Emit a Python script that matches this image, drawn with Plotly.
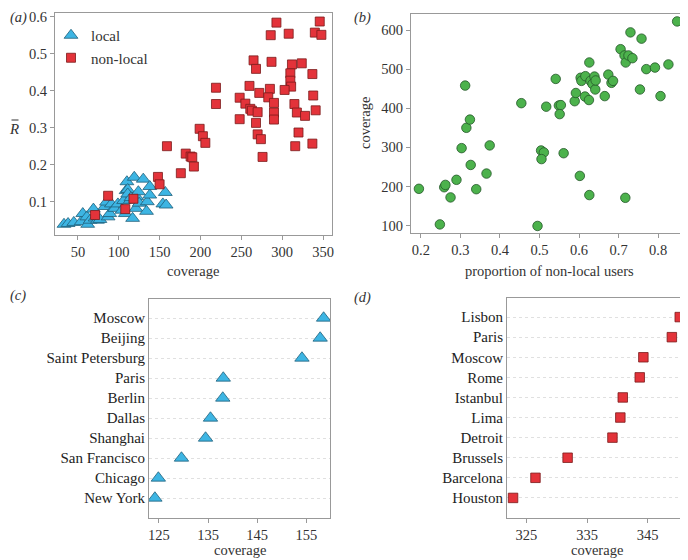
import plotly.graph_objects as go

# panel (a): coverage vs mean R for local / non-local users
local_cov = [33, 38, 45, 54, 56, 61, 62, 65, 69, 71, 74, 77, 83, 85, 87, 89, 91, 95, 99,
             104, 106, 108, 109, 110, 111, 111, 114, 115, 117, 119, 121, 122, 124, 125,
             130, 134, 135, 138, 138, 154, 157, 158]
local_r = [0.039, 0.041, 0.044, 0.046, 0.068, 0.059, 0.039, 0.050, 0.080, 0.056, 0.050,
           0.052, 0.087, 0.099, 0.059, 0.068, 0.094, 0.082, 0.094, 0.077, 0.103, 0.068,
           0.130, 0.154, 0.133, 0.121, 0.104, 0.111, 0.055, 0.166, 0.082, 0.113, 0.127,
           0.096, 0.161, 0.074, 0.100, 0.118, 0.141, 0.094, 0.125, 0.091]
nonlocal_cov = [293, 346, 286, 308, 340, 348, 265, 287, 268, 312, 324, 310, 337, 310, 311,
                303, 260, 272, 285, 219, 219, 248, 283, 255, 290, 261, 263, 270, 315, 318,
                328, 341, 338, 248, 290, 290, 268, 270, 274, 320, 316, 337, 276, 199, 203,
                206, 159, 182, 188, 190, 192, 176, 148, 150, 87, 118, 108, 71]
nonlocal_r = [0.584, 0.587, 0.550, 0.554, 0.557, 0.551, 0.482, 0.478, 0.459, 0.471, 0.474,
              0.447, 0.445, 0.427, 0.411, 0.402, 0.413, 0.394, 0.405, 0.408, 0.364, 0.381,
              0.382, 0.365, 0.367, 0.351, 0.346, 0.342, 0.364, 0.341, 0.332, 0.347, 0.387,
              0.323, 0.341, 0.322, 0.313, 0.282, 0.269, 0.287, 0.250, 0.257, 0.221, 0.297,
              0.277, 0.259, 0.250, 0.230, 0.222, 0.220, 0.195, 0.177, 0.167, 0.147, 0.116,
              0.108, 0.080, 0.064]

# panel (b): proportion of non-local users vs coverage
prop_nonlocal = [0.195, 0.248, 0.259, 0.262, 0.275, 0.29, 0.303, 0.312, 0.315, 0.324, 0.326,
                 0.34, 0.366, 0.374, 0.454, 0.495, 0.504, 0.511, 0.505, 0.517, 0.541, 0.549,
                 0.554, 0.551, 0.561, 0.589, 0.592, 0.602, 0.604, 0.606, 0.616, 0.615, 0.625,
                 0.626, 0.626, 0.629, 0.634, 0.639, 0.641, 0.642, 0.665, 0.674, 0.682, 0.686,
                 0.705, 0.717, 0.715, 0.718, 0.725, 0.735, 0.73, 0.754, 0.758, 0.77, 0.792,
                 0.806, 0.826, 0.848]
coverage_b = [194, 103, 198, 204, 172, 217, 298, 458, 350, 371, 255, 193, 233, 305, 413, 99,
              292, 287, 270, 404, 475, 407, 408, 385, 285, 418, 439, 227, 478, 470, 482, 430,
              421, 517, 178, 470, 462, 481, 448, 471, 431, 486, 465, 470, 551, 171, 535, 517,
              535, 528, 594, 448, 578, 500, 504, 431, 512, 622]

# panel (c): top local cities
cities_c = ["New York", "Chicago", "San Francisco", "Shanghai", "Dallas", "Berlin",
            "Paris", "Saint Petersburg", "Beijing", "Moscow"]
coverage_c = [124.2, 124.9, 129.6, 134.5, 135.5, 138.0, 138.1, 154.1, 157.8, 158.5]

# panel (d): top non-local cities
cities_d = ["Houston", "Barcelona", "Brussels", "Detroit", "Lima", "Istanbul", "Rome",
            "Moscow", "Paris", "Lisbon"]
coverage_d = [322.8, 326.5, 331.8, 339.2, 340.5, 340.9, 343.7, 344.3, 349.0, 350.3]

BLUE = "#3db5e3"
RED = "#e3333a"
GREEN = "#4cb24c"
FONT = "Liberation Serif"

fig = go.Figure()

fig.add_trace(go.Scatter(x=local_cov, y=local_r, mode="markers", name="local",
                         marker=dict(symbol="triangle-up", size=12, color=BLUE,
                                     line=dict(color="#1f5f7a", width=0.8)),
                         xaxis="x", yaxis="y"))
fig.add_trace(go.Scatter(x=nonlocal_cov, y=nonlocal_r, mode="markers", name="non-local",
                         marker=dict(symbol="square", size=9, color=RED,
                                     line=dict(color="#7a1a1a", width=0.8)),
                         xaxis="x", yaxis="y"))
fig.add_trace(go.Scatter(x=prop_nonlocal, y=coverage_b, mode="markers", showlegend=False,
                         marker=dict(symbol="circle", size=9.5, color=GREEN,
                                     line=dict(color="#25572a", width=0.8)),
                         xaxis="x2", yaxis="y2"))
fig.add_trace(go.Scatter(x=coverage_c, y=cities_c, mode="markers", showlegend=False,
                         marker=dict(symbol="triangle-up", size=12.5, color=BLUE,
                                     line=dict(color="#1f5f7a", width=0.8)),
                         xaxis="x3", yaxis="y3"))
fig.add_trace(go.Scatter(x=coverage_d, y=cities_d, mode="markers", showlegend=False,
                         marker=dict(symbol="square", size=9.5, color=RED,
                                     line=dict(color="#7a1a1a", width=0.8)),
                         xaxis="x4", yaxis="y4"))

# the page body has an 8px margin, so the figure is 680x552 and sits at (8, 8)
OFF = 8
W, H = 688 - OFF, 560 - OFF

def px(x):
    return (x - OFF) / W

def py(y):
    return 1 - (y - OFF) / H

tick_font = dict(family=FONT, size=14.5, color="#333")
box = dict(showline=True, linecolor="#999", linewidth=1, mirror=True, zeroline=False,
           showgrid=False, ticks="outside", ticklen=4, tickcolor="#999", tickfont=tick_font,
           automargin=False)

fig.update_layout(
    width=W, height=H, margin=dict(l=0, r=0, t=0, b=0),
    paper_bgcolor="white", plot_bgcolor="white",
    font=dict(family=FONT, size=15, color="#333"),
    xaxis=dict(box, domain=[px(55), px(332)], range=[22, 361],
               tickvals=[50, 100, 150, 200, 250, 300, 350], anchor="y"),
    yaxis=dict(box, domain=[py(235), py(13)], range=[0.01, 0.61],
               tickvals=[0.1, 0.2, 0.3, 0.4, 0.5, 0.6], anchor="x"),
    xaxis2=dict(box, domain=[px(411), px(687)], range=[0.175, 0.873],
                tickvals=[0.2, 0.3, 0.4, 0.5, 0.6, 0.7, 0.8], anchor="y2"),
    yaxis2=dict(box, domain=[py(233), py(14)], range=[81, 641],
                tickvals=[100, 200, 300, 400, 500, 600], anchor="x2"),
    xaxis3=dict(box, domain=[px(149), px(330)], range=[123, 159.8],
                tickvals=[125, 135, 145, 155], anchor="y3"),
    yaxis3=dict(box, domain=[py(518), py(299)], range=[-1, 9.95],
                categoryorder="array", categoryarray=cities_c, ticks="",
                showgrid=True, gridcolor="#e0e0e0", griddash="dot",
                tickfont=dict(family=FONT, size=15, color="#222"), anchor="x3"),
    xaxis4=dict(box, domain=[px(507), px(687)], range=[321.8, 351.5],
                tickvals=[325, 335, 345], anchor="y4"),
    yaxis4=dict(box, domain=[py(518), py(298)], range=[-1, 9.95],
                categoryorder="array", categoryarray=cities_d, ticks="",
                showgrid=True, gridcolor="#e0e0e0", griddash="dot",
                tickfont=dict(family=FONT, size=15, color="#222"), anchor="x4"),
    legend=dict(x=px(51), y=py(19), xanchor="left", yanchor="top",
                bgcolor="rgba(0,0,0,0)", font=dict(family=FONT, size=15, color="#333"),
                tracegroupgap=4),
    showlegend=True,
)

# panel letters, axis titles and the R-bar axis label, placed by reference pixel
texts = [("<i>(a)</i>", 8, 18, "left", 0), ("<i>(b)</i>", 352, 18, "left", 0),
         ("<i>(c)</i>", 8, 295, "left", 0), ("<i>(d)</i>", 352, 297, "left", 0),
         ("coverage", 193, 271, "center", 0), ("proportion of non-local users", 549, 271, "center", 0),
         ("coverage", 240, 550, "center", 0), ("coverage", 597, 550, "center", 0),
         ("coverage", 365, 123, "center", -90)]
for text, x, y, anc, ang in texts:
    fig.add_annotation(text=text, x=px(x), y=py(y), xref="paper", yref="paper",
                       xanchor=anc, yanchor="middle", showarrow=False, textangle=ang,
                       font=dict(family=FONT, size=14.5, color="#333"))
# R with a bar over it (the bar is a short line above the letter)
fig.add_annotation(text="<i>R</i>", x=px(14), y=py(129), xref="paper", yref="paper",
                   xanchor="center", yanchor="middle", showarrow=False,
                   font=dict(family=FONT, size=15, color="#333"))
fig.add_shape(type="line", xref="paper", yref="paper", x0=px(11.5), x1=px(18.5),
              y0=py(120), y1=py(120), line=dict(color="#333", width=1))

fig.write_html("out.html")
